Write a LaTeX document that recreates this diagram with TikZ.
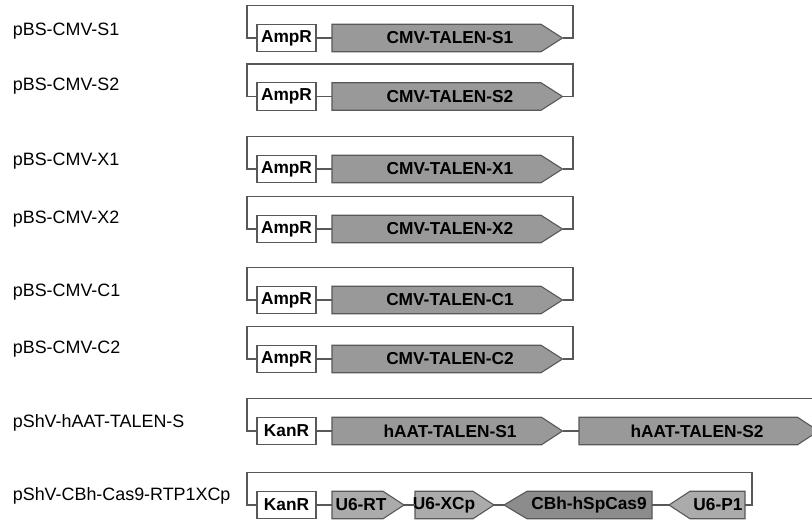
\documentclass[tikz,border=0pt]{standalone}
\usepackage{fontspec}
\setmainfont{Liberation Sans}
\definecolor{linegray}{HTML}{585858}
\definecolor{genefill}{HTML}{999999}
\definecolor{lightfill}{HTML}{ABABAB}
\definecolor{darkfill}{HTML}{8C8C8C}
\newcommand{\gfwd}[8]{%
  \draw[geneshape, fill=#8] (#2,#5-13.75) -- (#3,#5-13.75) -- (#4,#5) -- (#3,#5+13.75) -- (#2,#5+13.75) -- cycle;
  \coordinate (#1-w) at (#2,#5); \coordinate (#1-e) at (#4,#5);
  \node[genelabel] (#1) at (#6,#5) {#7};}
\newcommand{\grev}[8]{%
  \draw[geneshape, fill=#8] (#2,#5) -- (#3,#5-13.75) -- (#4,#5-13.75) -- (#4,#5+13.75) -- (#3,#5+13.75) -- cycle;
  \coordinate (#1-w) at (#2,#5); \coordinate (#1-e) at (#4,#5);
  \node[genelabel] (#1) at (#6,#5) {#7};}
\begin{document}
\begin{tikzpicture}[x=1pt,y=-1pt,
  geneshape/.style={draw=linegray, line width=1.1pt, line join=miter},
  genelabel/.style={inner sep=0pt, font=\fontsize{17.3}{20}\selectfont\bfseries},
  markerbox/.style={draw=linegray, line width=1.1pt, fill=white, minimum width=59pt, minimum height=27.5pt, inner sep=0pt, font=\fontsize{17.3}{20}\selectfont\bfseries},
  rowlabel/.style={anchor=base west, inner sep=0pt, font=\fontsize{17.9}{20}\selectfont},
  loopline/.style={draw=linegray, line width=1.4pt},
  linkline/.style={draw=linegray, line width=1.2pt}]
\useasboundingbox (0,0) rectangle (812,520);
\clip (0,0) rectangle (812,520);

% CMV rows
\foreach \r/\yc/\yb/\nm/\gn in {1/38/35/S1/S1, 2/96.5/90/S2/S2, 3/169/165/X1/X1, 4/229/223.3/X2/X2, 5/300/296.7/C1/C1, 6/359/353.3/C2/C2}{
  \node[rowlabel] (lab\r) at (12.7,\yb) {pBS-CMV-\nm};
  \node[markerbox] (amp\r) at (286.5,\yc) {AmpR};
  \gfwd{g\r}{332}{541}{562.5}{\yc}{450}{CMV-TALEN-\gn}{genefill}
  \coordinate (tl\r) at (247,\yc-32.5);
  \coordinate (tr\r) at (573,\yc-32.5);
  \draw[linkline] (amp\r.east) -- (g\r-w);
  \draw[loopline] (amp\r.west) -| (tl\r) -- (tr\r) |- (g\r-e);
}

% hAAT row
\node[rowlabel] (lab7) at (12.7,427.3) {pShV-hAAT-TALEN-S};
\node[markerbox] (kan7) at (286.5,431) {KanR};
\gfwd{h1}{332}{541.5}{562.5}{431}{450}{hAAT-TALEN-S1}{genefill}
\gfwd{h2}{579}{797.5}{818.5}{431}{697}{hAAT-TALEN-S2}{genefill}
\coordinate (tl7) at (247,398.5);
\coordinate (tr7) at (812,398.5);
\draw[linkline] (kan7.east) -- (h1-w);
\draw[linkline] (h1-e) -- (h2-w);
\draw[loopline] (kan7.west) -| (tl7) -- (tr7);

% Cas9 row
\node[rowlabel] (lab8) at (12.7,500.7) {pShV-CBh-Cas9-RTP1XCp};
\node[markerbox] (kan8) at (286.5,505) {KanR};
\gfwd{u1}{332}{383}{404}{505}{361}{U6-RT}{lightfill}
\gfwd{u2}{415}{473}{494}{505}{444}{U6-XCp}{lightfill}
\grev{cb}{504}{527}{652}{505}{589}{CBh-hSpCas9}{darkfill}
\grev{u3}{669}{690}{745}{505}{718}{U6-P1}{lightfill}
\coordinate (tl8) at (247,472.5);
\coordinate (tr8) at (752,472.5);
\draw[linkline] (kan8.east) -- (u1-w);
\draw[linkline] (u1-e) -- (u2-w);
\draw[linkline] (u2-e) -- (cb-w);
\draw[linkline] (cb-e) -- (u3-w);
\draw[loopline] (kan8.west) -| (tl8) -- (tr8) |- (u3-e);
\end{tikzpicture}
\end{document}
